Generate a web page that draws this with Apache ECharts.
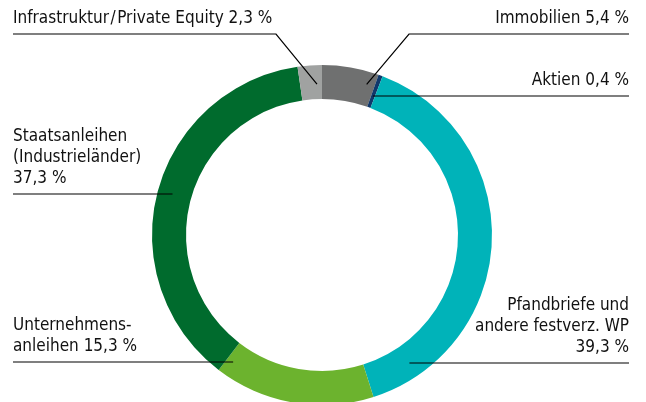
<!DOCTYPE html>
<html>
<head>
    <meta charset="utf-8"/>
    <title>Kapitalanlagen</title>
    <script src="https://cdn.jsdelivr.net/npm/echarts@6/dist/echarts.min.js"></script>
    <style>
        html, body { margin: 0; padding: 0; background: #fff; }
        #main { width: 646px; height: 402px; }
    </style>
</head>
<body>
<div id="main"></div>
<script type="text/javascript">
    // Daten (im Uhrzeigersinn ab 12 Uhr)
    var names = ['Immobilien', 'Aktien', 'Pfandbriefe und andere festverz. WP', 'Unternehmensanleihen', 'Staatsanleihen (Industrieländer)', 'Infrastruktur/Private Equity'];
    var values = [5.4, 0.4, 39.3, 15.3, 37.3, 2.3];
    var labelTexts = [
        'Immobilien 5,4 %',
        'Aktien 0,4 %',
        'Pfandbriefe und\nandere festverz. WP\n39,3 %',
        'Unternehmens-\nanleihen 15,3 %',
        'Staatsanleihen\n(Industrieländer)\n37,3 %',
        'Infrastruktur\u200a/\u200aPrivate Equity 2,3 %'
    ];
    var colors = ['#6f7070', '#10386b', '#00b3b9', '#6cb32e', '#006b2d', '#a0a2a1'];

    // Geometrie des Rings
    var cx = 322, cy = 235, rIn = 136, rOut = 170;

    // Beschriftungen: Seite, Linienhöhe, Linienende außen, Ankerradius, ggf. Knick
    var labelPos = [
        {side: 'right', lineY: 34, edgeX: 629, r: 157, frac: 0.85, elbowX: 409},
        {side: 'right', lineY: 96, edgeX: 629, r: 148},
        {side: 'right', lineY: 363, edgeX: 629, r: 155},
        {side: 'left', lineY: 362, edgeX: 13, r: 155},
        {side: 'left', lineY: 194, edgeX: 13, r: 155},
        {side: 'left', lineY: 34, edgeX: 13, r: 151, frac: 0.77, elbowX: 276}
    ];

    var total = values.reduce(function (a, b) { return a + b; }, 0);

    function anchorPoint(i) {
        var p = labelPos[i];
        if (p.frac === undefined) {
            // waagerechte Linie bis in den Ring
            var dy = p.lineY - cy;
            var dx = Math.sqrt(p.r * p.r - dy * dy);
            return [p.side === 'left' ? cx - dx : cx + dx, p.lineY];
        }
        var start = 0;
        for (var k = 0; k < i; k++) start += values[k];
        var ang = (start + p.frac * values[i]) / total * Math.PI * 2;
        return [cx + p.r * Math.sin(ang), cy - p.r * Math.cos(ang)];
    }

    var ringData = names.map(function (n, i) {
        return {name: n, value: values[i], itemStyle: {color: colors[i]}};
    });
    // zweite, unsichtbare Serie nur für Beschriftung + Linien (liegt über dem Ring)
    var labelData = names.map(function (n, i) {
        return {name: n, value: values[i], label: {formatter: labelTexts[i]}};
    });

    var myChart = echarts.init(document.getElementById('main'));
    var option = {
        animation: false,
        series: [{
            type: 'pie',
            z: 2,
            center: [cx, cy],
            radius: [rIn, rOut],
            startAngle: 90,
            clockwise: true,
            silent: true,
            data: ringData,
            label: {show: false},
            labelLine: {show: false}
        }, {
            type: 'pie',
            z: 5,
            center: [cx, cy],
            radius: [rIn, rOut],
            startAngle: 90,
            clockwise: true,
            silent: true,
            avoidLabelOverlap: false,
            data: labelData,
            itemStyle: {color: 'rgba(0,0,0,0)'},
            label: {
                show: true,
                position: 'outer',
                overflow: 'none',
                color: '#111',
                fontFamily: "'DejaVu Sans Condensed', sans-serif",
                fontSize: 17,
                lineHeight: 21
            },
            labelLine: {
                show: true,
                smooth: false,
                lineStyle: {color: '#000', width: 1.2}
            },
            labelLayout: function (params) {
                var i = params.dataIndex;
                var p = labelPos[i];
                var a = anchorPoint(i);
                var elbow = p.elbowX !== undefined ? [p.elbowX, p.lineY] : [a[0], a[1]];
                return {
                    x: p.edgeX,
                    y: p.lineY - 5,
                    align: p.side,
                    verticalAlign: 'bottom',
                    labelLinePoints: [a, elbow, [p.edgeX, p.lineY]]
                };
            }
        }]
    };
    myChart.setOption(option);
</script>
</body>
</html>
